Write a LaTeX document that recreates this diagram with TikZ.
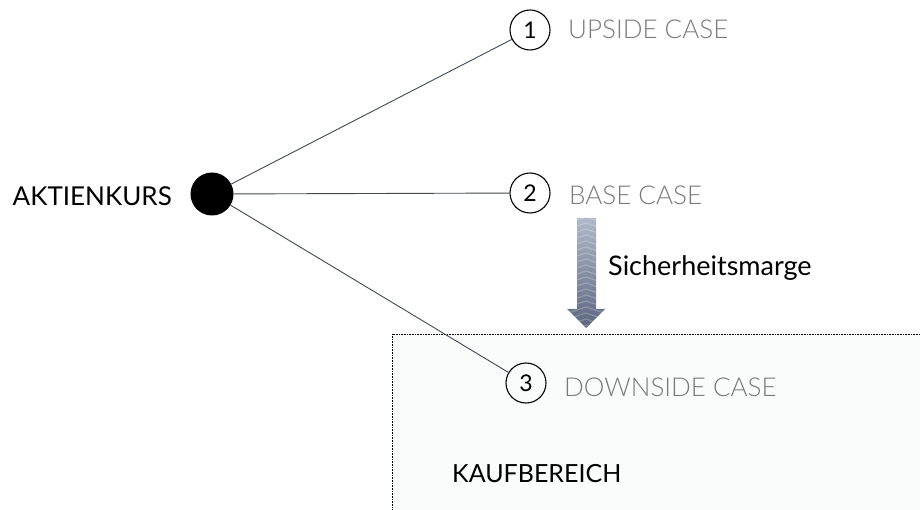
\documentclass[tikz,border=0pt]{standalone}
\usepackage{fontspec}
\setmainfont{Lato}
\newfontfamily\lightfont{Lato Light}
\usetikzlibrary{arrows.meta}
\definecolor{casegray}{HTML}{7A7A7A}
\definecolor{linegray}{HTML}{404850}
\definecolor{boxfill}{HTML}{FAFCFC}
\definecolor{arrtop}{HTML}{B0B9C9}
\definecolor{arrbot}{HTML}{5C6680}
\tikzset{
  bigtext/.style={font=\fontsize{26}{30}\selectfont, text=black, inner sep=0pt},
  casetext/.style={font=\lightfont\fontsize{26}{30}\selectfont, text=casegray, inner sep=0pt, anchor=west},
  numcircle/.style={circle, draw=black, line width=1.1pt, minimum size=40pt, inner sep=0pt, font=\fontsize{23}{25}\selectfont},
  branch/.style={draw=linegray, line width=0.9pt},
}
\begin{document}
\begin{tikzpicture}[x=1pt,y=-1pt]
\useasboundingbox (0,0) rectangle (920,510);
% Kaufbereich box
\fill[boxfill] (392,334) rectangle (921,511);
\draw[black, line width=0.8pt, dash pattern=on 0.8pt off 0.8pt] (392,511) -- (392,334) -- (921,334);
% dot
\node[circle, fill=black, minimum size=43pt, inner sep=0pt] (dot) at (212,194) {};
\node[bigtext, anchor=east] (akt) at (172,196) {AKTIENKURS};
% circles
\node[numcircle] (c1) at (530,30) {1};
\node[numcircle] (c2) at (530,193) {2};
\node[numcircle] (c3) at (526,383) {3};
\node[casetext] (u) at (568,29) {UPSIDE CASE};
\node[casetext] (b) at (569,195) {BASE CASE};
\node[casetext] (d) at (564,387) {DOWNSIDE CASE};
\draw[branch] (dot) -- (c1);
\draw[branch] (dot) -- (c2);
\draw[branch] (dot) -- (c3);
% arrow
\begin{scope}
  \path[clip] (577,218) -- (596,218) -- (596,309) -- (605,309) -- (586,328) -- (567,309) -- (577,309) -- cycle;
  \shade[top color=arrtop, bottom color=arrbot] (565,218) rectangle (607,328);
  \foreach \yy in {224,230,...,334} {
    \draw[white, opacity=0.22, line width=1.2pt] (565,\yy) -- (586,\yy-7) -- (607,\yy);
  }
\end{scope}
\node[bigtext, anchor=west, font=\fontsize{27}{31}\selectfont] (sm) at (608,268) {Sicherheitsmarge};
\node[bigtext, anchor=west, font=\fontsize{25}{29}\selectfont] (kb) at (452,474) {KAUFBEREICH};
\end{tikzpicture}
\end{document}
